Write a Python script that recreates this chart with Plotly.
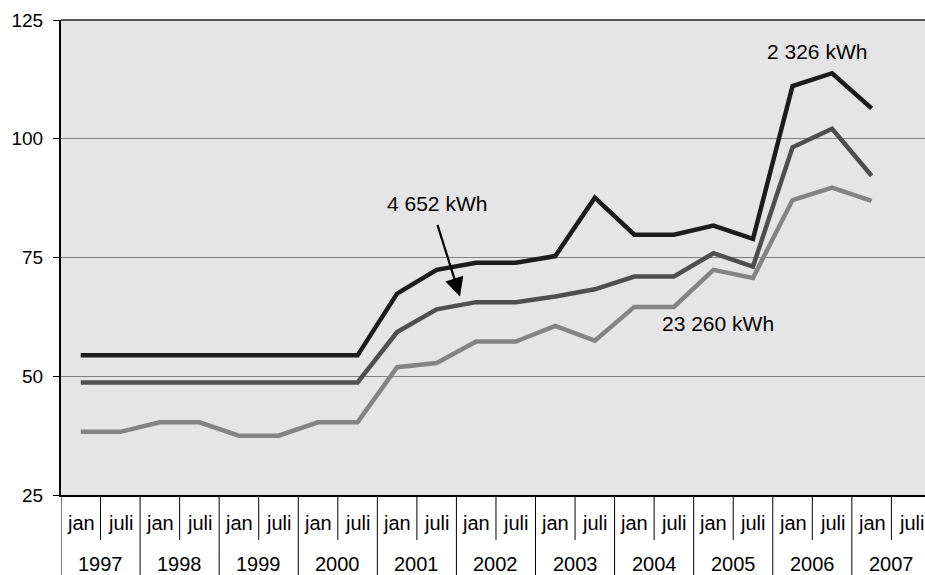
import plotly.graph_objects as go

# category axis: years (outer row) and half-year (inner row)
years = ["1997", "1998", "1999", "2000", "2001", "2002",
         "2003", "2004", "2005", "2006", "2007"]
halves = ["jan", "juli"]
periods = [f"{h} {y}" for y in years for h in halves]

# price index per consumption level (last period has no value)
kwh_2326 = [54.4, 54.4, 54.4, 54.4, 54.4, 54.4, 54.4, 54.4,
            67.4, 72.4, 73.9, 73.9, 75.3, 87.6, 79.8, 79.8,
            81.7, 78.9, 111.1, 113.8, 106.4, None]
kwh_4652 = [48.7, 48.7, 48.7, 48.7, 48.7, 48.7, 48.7, 48.7,
            59.3, 64.1, 65.6, 65.6, 66.8, 68.3, 71.0, 71.0,
            75.9, 73.1, 98.2, 102.1, 92.2, None]
kwh_23260 = [38.3, 38.3, 40.3, 40.3, 37.5, 37.5, 40.3, 40.3,
             51.9, 52.8, 57.3, 57.3, 60.6, 57.5, 64.6, 64.6,
             72.4, 70.7, 87.1, 89.7, 86.9, None]

y_ticks = [25, 50, 75, 100, 125]

FONT = "Liberation Sans, Arial, sans-serif"
PLOT_H = 475  # px height of plot area, used to put the two label rows below it

fig = go.Figure()
series = [
    (kwh_23260, "23 260 kWh", "#848484"),
    (kwh_4652, "4 652 kWh", "#4f4f4f"),
    (kwh_2326, "2 326 kWh", "#1c1c1c"),
]
for vals, name, col in series:
    fig.add_trace(go.Scatter(
        x=periods, y=vals, name=name, mode="lines",
        line=dict(color=col, width=4.5), connectgaps=False,
        hoverinfo="skip",
    ))

# two-row category labels (jan/juli above, year below) and the dividers
annotations = []
shapes = []
for i, p in enumerate(periods):
    annotations.append(dict(
        text=p.split()[0], xref="x", yref="paper", x=p, y=-28 / PLOT_H,
        xanchor="center", yanchor="middle",
        showarrow=False, font=dict(size=20),
    ))
for j, y in enumerate(years):
    annotations.append(dict(
        text=y, xref="x", yref="paper", x=2 * j + 0.5, y=-69 / PLOT_H,
        xanchor="center", yanchor="middle",
        showarrow=False, font=dict(size=20),
    ))
for k in range(len(periods)):
    bottom = -80 if k % 2 == 0 else -45
    shapes.append(dict(
        type="line", xref="x", yref="paper", x0=k - 0.5, x1=k - 0.5,
        y0=0, y1=bottom / PLOT_H, line=dict(color="black", width=1),
    ))
# top border of the plot area
shapes.append(dict(type="line", xref="paper", yref="paper", x0=0, x1=1,
                   y0=1, y1=1, line=dict(color="#555555", width=2)))

# series labels and the arrow
annotations += [
    dict(text="2 326 kWh", xref="paper", yref="y", x=0.8747, y=118.3,
         xanchor="center", yanchor="middle", showarrow=False, font=dict(size=21)),
    dict(text="4 652 kWh", xref="paper", yref="y", x=0.4348, y=86.4,
         xanchor="center", yanchor="middle", showarrow=False, font=dict(size=21)),
    dict(text="23 260 kWh", xref="paper", yref="y", x=0.760, y=61.2,
         xanchor="center", yanchor="middle", showarrow=False, font=dict(size=21)),
    dict(text="", xref="paper", yref="y", x=0.4618, y=66.8,
         ax=-23, ay=-73, showarrow=True, arrowhead=2,
         arrowsize=1.7, arrowwidth=2.2, arrowcolor="black", standoff=0),
]

fig.update_layout(
    width=925, height=575,
    margin=dict(l=61, r=0, t=20, b=80),
    paper_bgcolor="white",
    plot_bgcolor="#e5e5e5",
    showlegend=False,
    font=dict(family=FONT, size=19, color="black"),
    annotations=annotations,
    shapes=shapes,
)

fig.update_xaxes(
    type="category", categoryorder="array", categoryarray=periods,
    range=[-0.5, 21.35],
    showgrid=False, showticklabels=False, ticks="",
    showline=True, linecolor="black", linewidth=1.5,
    automargin=False,
)
fig.update_yaxes(
    range=[25, 125], tickvals=y_ticks,
    showgrid=True, gridcolor="#808080", gridwidth=1,
    showline=True, linecolor="black", linewidth=2,
    ticks="outside", ticklen=6, tickcolor="black", ticklabelstandoff=6,
    tickfont=dict(size=19), zeroline=False, automargin=False,
)

# the page's default body margin would shift the figure by 8px
fig.write_html(
    "out.html",
    config={"displayModeBar": False},
    post_script="document.body.style.margin='0';document.body.style.overflow='hidden';",
)
